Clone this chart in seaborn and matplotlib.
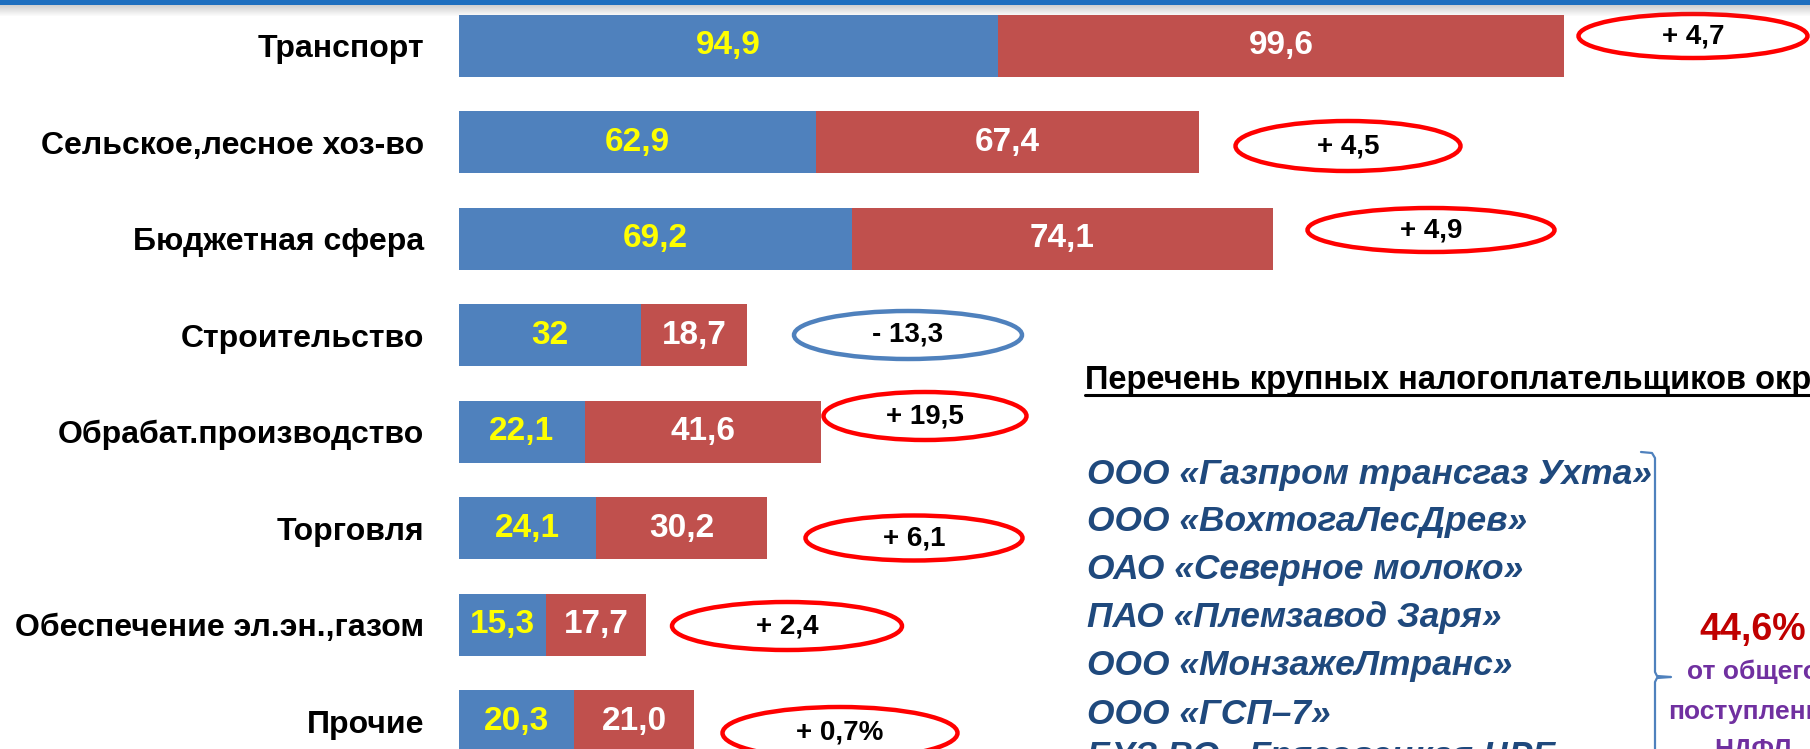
import seaborn as sns
import matplotlib.pyplot as plt
from matplotlib.patches import Ellipse, Rectangle
from matplotlib.lines import Line2D

# data
categories = ['Транспорт', 'Сельское,лесное хоз-во', 'Бюджетная сфера', 'Строительство',
              'Обрабат.производство', 'Торговля', 'Обеспечение эл.эн.,газом', 'Прочие']
prev_year = [94.9, 62.9, 69.2, 32.0, 22.1, 24.1, 15.3, 20.3]
curr_year = [99.6, 67.4, 74.1, 18.7, 41.6, 30.2, 17.7, 21.0]
prev_labels = ['94,9', '62,9', '69,2', '32', '22,1', '24,1', '15,3', '20,3']
curr_labels = ['99,6', '67,4', '74,1', '18,7', '41,6', '30,2', '17,7', '21,0']
change_labels = ['+ 4,7', '+ 4,5', '+ 4,9', '- 13,3', '+ 19,5', '+ 6,1', '+ 2,4', '+ 0,7%']

companies = ['ООО «Газпром трансгаз Ухта»', 'ООО «ВохтогаЛесДрев»', 'ОАО «Северное молоко»',
             'ПАО «Племзавод Заря»', 'ООО «МонзажеЛтранс»', 'ООО «ГСП–7»',
             'БУЗ ВО «Грязовецкая ЦРБ»']

# layout in pixels
ellipse_pos = [(1693, 36, 229, 44), (1348, 146, 225, 50), (1431, 230, 247, 44),
               (908, 335, 228, 48), (925, 416, 203, 48), (914, 538, 217, 45),
               (787, 626, 230, 48), (840, 733, 235, 52)]
company_y = [474, 522, 570, 618, 666, 714, 757]

W, H = 1810, 749
BLUE = '#4F81BD'
RED = '#C0504D'

sns.set_style('white')
plt.rcParams['font.family'] = ['Liberation Sans', 'DejaVu Sans']
plt.rcParams['text.color'] = 'black'
plt.rcParams['ytick.color'] = 'black'


def fx(x):
    return x / W


def fy(y):
    return 1 - y / H


fig = plt.figure(figsize=(18.1, 7.49), dpi=100)
x0 = 459
ax = fig.add_axes([x0 / W, 0, 1 - x0 / W, 1])

totals = [p + c for p, c in zip(prev_year, curr_year)]
sns.barplot(x=totals, y=categories, color=RED, saturation=1, width=0.643,
            errorbar=None, linewidth=0, ax=ax, orient='h')
sns.barplot(x=prev_year, y=categories, color=BLUE, saturation=1, width=0.643,
            errorbar=None, linewidth=0, ax=ax, orient='h')

ax.set_xlim(0, (W - x0) / 5.68)
ax.set_ylim(7.29, -0.477)
ax.set_xticks([])
ax.set_xlabel('')
ax.set_ylabel('')
sns.despine(ax=ax, left=True, bottom=True)
ax.tick_params(axis='y', length=0, pad=25, labelcolor='black')
for lbl in ax.get_yticklabels():
    lbl.set_fontsize(23)
    lbl.set_fontweight('bold')

for i, (p, c) in enumerate(zip(prev_year, curr_year)):
    ax.text(p / 2, i, prev_labels[i], ha='center', va='center', color='#FFFF00',
            fontsize=24, fontweight='bold')
    ax.text(p + c / 2, i, curr_labels[i], ha='center', va='center', color='white',
            fontsize=24, fontweight='bold')

# change ellipses
for (cx, cy, w, h), txt in zip(ellipse_pos, change_labels):
    col = BLUE if txt.startswith('-') else '#FF0000'
    fig.patches.append(Ellipse((fx(cx), fy(cy)), w / W, h / H, transform=fig.transFigure,
                               fill=False, edgecolor=col, linewidth=3.2))
    fig.text(fx(cx), fy(cy), txt, ha='center', va='center', fontsize=20,
             fontweight='bold', color='black')

# top stripe with shadow
for k in range(12):
    fig.patches.append(Rectangle((0, fy(5 + k)), 1, 1 / H, transform=fig.transFigure,
                                 color='#808080', alpha=0.4 * (1 - k / 12), linewidth=0))
fig.patches.append(Rectangle((0, fy(5)), 1, 5 / H, transform=fig.transFigure,
                             color='#1F6FBF', linewidth=0))

# header and list
fig.text(fx(1085), fy(389), 'Перечень крупных налогоплательщиков округа', ha='left',
         va='baseline', fontsize=23.5, fontweight='bold', color='black')
fig.lines.append(Line2D([fx(1085), 1.0], [fy(395), fy(395)], transform=fig.transFigure,
                        color='black', linewidth=2.2))

for yy, name in zip(company_y, companies):
    fig.text(fx(1087), fy(yy), name, ha='left', va='center', fontsize=25.5,
             fontweight='bold', fontstyle='italic', color='#1F497D')

# brace
bx = 1655
fig.lines.append(Line2D([fx(1641), fx(bx - 3), fx(bx), fx(bx), fx(bx + 2), fx(1671),
                         fx(bx + 2), fx(bx), fx(bx)],
                        [fy(452), fy(453), fy(458), fy(672), fy(676), fy(677),
                         fy(678), fy(682), fy(760)],
                        transform=fig.transFigure, color=BLUE, linewidth=1.6))

fig.text(fx(1753), fy(630), '44,6%', ha='center', va='center', fontsize=27,
         fontweight='bold', color='#C00000')
fig.text(fx(1753), fy(672), 'от общего', ha='center', va='center', fontsize=19,
         fontweight='bold', color='#7030A0')
fig.text(fx(1753), fy(712), 'поступления', ha='center', va='center', fontsize=19,
         fontweight='bold', color='#7030A0')
fig.text(fx(1753), fy(750), 'НДФЛ', ha='center', va='center', fontsize=19,
         fontweight='bold', color='#7030A0')

fig.savefig('out.png', dpi=100)
